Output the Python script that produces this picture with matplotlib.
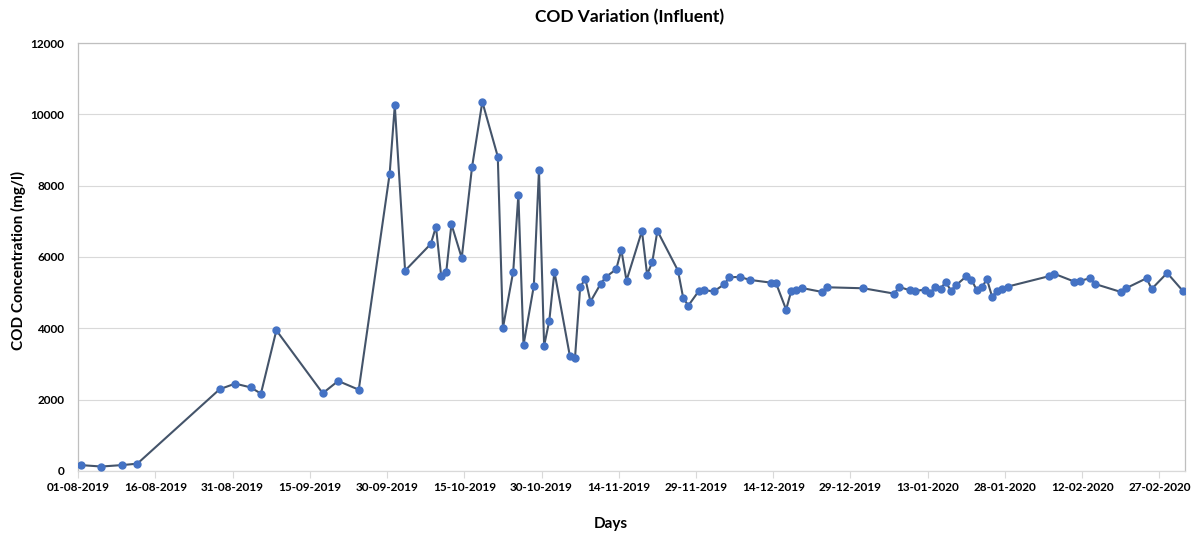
import numpy as np
import pandas as pd
import matplotlib; matplotlib.use("Agg")
import matplotlib.pyplot as plt
import matplotlib.dates as mdates

plt.rcParams['font.family'] = ['Lato', 'DejaVu Sans']

# sampling dates and influent COD (mg/l)
dates = ["2019-08-01", "2019-08-05", "2019-08-09", "2019-08-12", "2019-08-28", "2019-08-31",
         "2019-09-03", "2019-09-05", "2019-09-08", "2019-09-17", "2019-09-20", "2019-09-24",
         "2019-09-30", "2019-10-01", "2019-10-03", "2019-10-08", "2019-10-09", "2019-10-10",
         "2019-10-11", "2019-10-12", "2019-10-14", "2019-10-16", "2019-10-18", "2019-10-21",
         "2019-10-22", "2019-10-24", "2019-10-25", "2019-10-26", "2019-10-28", "2019-10-29",
         "2019-10-30", "2019-10-31", "2019-11-01", "2019-11-04", "2019-11-05", "2019-11-06",
         "2019-11-07", "2019-11-08", "2019-11-10", "2019-11-11", "2019-11-13", "2019-11-14",
         "2019-11-15", "2019-11-18", "2019-11-19", "2019-11-20", "2019-11-21", "2019-11-25",
         "2019-11-26", "2019-11-27", "2019-11-29", "2019-11-30", "2019-12-02", "2019-12-04",
         "2019-12-05", "2019-12-07", "2019-12-09", "2019-12-13", "2019-12-14", "2019-12-16",
         "2019-12-17", "2019-12-18", "2019-12-19", "2019-12-23", "2019-12-24", "2019-12-31",
         "2020-01-06", "2020-01-07", "2020-01-09", "2020-01-10", "2020-01-12", "2020-01-13",
         "2020-01-14", "2020-01-15", "2020-01-16", "2020-01-17", "2020-01-18", "2020-01-20",
         "2020-01-21", "2020-01-22", "2020-01-23", "2020-01-24", "2020-01-25", "2020-01-26",
         "2020-01-27", "2020-01-28", "2020-02-05", "2020-02-06", "2020-02-10", "2020-02-11",
         "2020-02-13", "2020-02-14", "2020-02-19", "2020-02-20", "2020-02-24", "2020-02-25",
         "2020-02-28", "2020-03-02"]
cod = [160, 120, 160, 200, 2290, 2445,
       2340, 2165, 3940, 2175, 2520, 2275,
       8330, 10250, 5615, 6365, 6850, 5466,
       5587, 6917, 5971, 8518, 10351, 8815,
       4006, 5587, 7749, 3529, 5185, 8442,
       3510, 4203, 5587, 3220, 3172, 5148,
       5390, 4745, 5250, 5438, 5654, 6196,
       5334, 6729, 5503, 5851, 6729, 5615,
       4857, 4632, 5036, 5065, 5036, 5233,
       5430, 5438, 5354, 5279, 5279, 4521,
       5045, 5073, 5129, 5017, 5148, 5120,
       4970, 5157, 5064, 5045, 5082, 4989,
       5166, 5110, 5298, 5054, 5204, 5457,
       5363, 5073, 5148, 5373, 4885, 5054,
       5110, 5166, 5457, 5531, 5306, 5326,
       5401, 5241, 5017, 5120, 5401, 5101,
       5550, 5054]
yticks = [0, 2000, 4000, 6000, 8000, 10000, 12000]

start = pd.Timestamp("2019-08-01")
# Excel date axis: each day's point sits in the middle of its day slot
t = pd.to_datetime(dates) + pd.Timedelta(hours=12)

fig = plt.figure(figsize=(12.02, 5.35), dpi=100)
ax = fig.add_axes([0.065, 0.12, 0.921, 0.7996])

ax.plot(t, cod, color="#44546A", lw=1.5, marker="o", ms=5,
        mfc="#4472C4", mec="#4472C4", zorder=3)

ax.set_xlim(start, pd.Timestamp("2020-03-03"))
ax.set_ylim(0, 12000)
ax.set_yticks(yticks)
ax.set_xticks(pd.date_range(start, periods=15, freq="15D"))
ax.xaxis.set_major_formatter(mdates.DateFormatter("%d-%m-%Y"))

ax.grid(axis="y", color="#d9d9d9", lw=0.8)
ax.set_axisbelow(True)
for s in ax.spines.values():
    s.set_color("#bfbfbf"); s.set_linewidth(0.9)
ax.spines["bottom"].set_color("#d9d9d9")
ax.tick_params(axis="y", length=0, pad=10, labelsize=8.5)
ax.tick_params(axis="x", length=5, color="#d9d9d9", pad=3, labelsize=8.5)
for lab in ax.get_xticklabels() + ax.get_yticklabels():
    lab.set_fontweight("bold")

fig.text(630 / 1202, 1 - 17 / 535, "COD Variation (Influent)", fontsize=12.5, fontweight="bold",
         ha="center", va="center")
fig.text(18 / 1202, 1 - 260 / 535, "COD Concentration (mg/l)", fontsize=11, fontweight="bold",
         rotation=90, ha="center", va="center")
fig.text(611 / 1202, 1 - 524 / 535, "Days", fontsize=11, fontweight="bold",
         ha="center", va="center")

fig.savefig("out.png", dpi=100)
